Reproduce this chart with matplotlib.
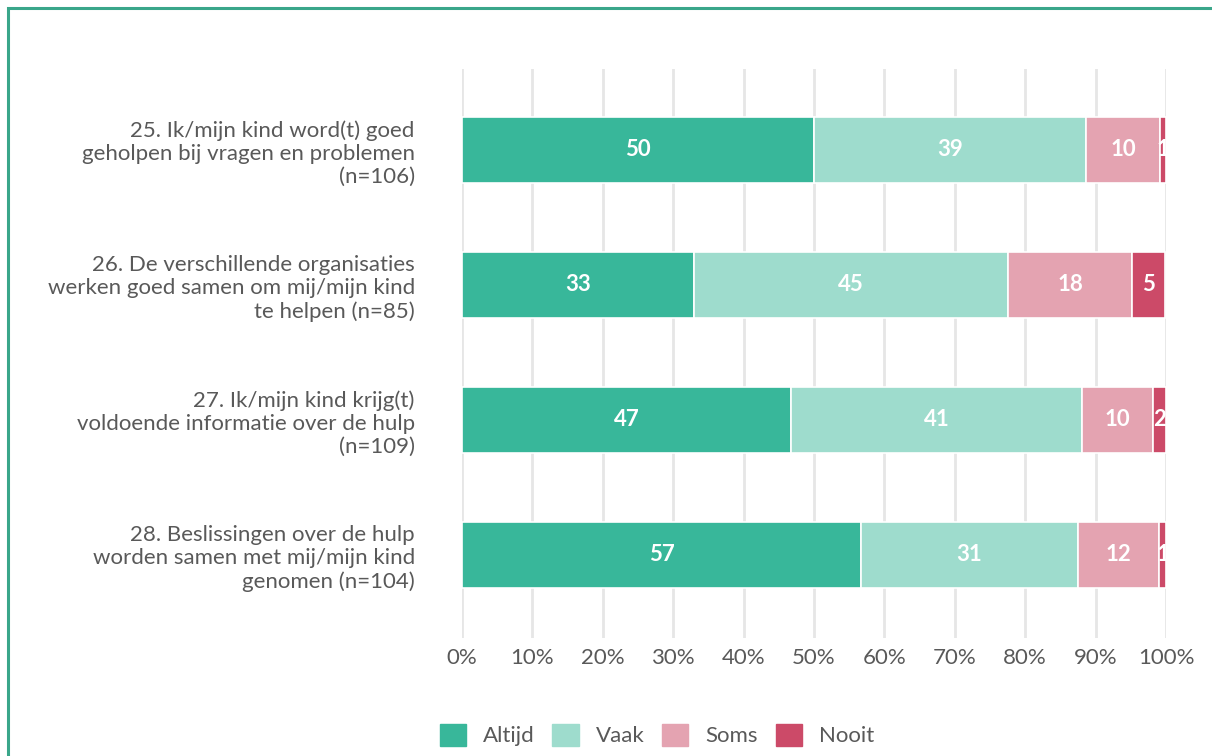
import matplotlib.pyplot as plt
import matplotlib.patches as mpatches
import numpy as np

plt.rcParams['font.family'] = ['Lato', 'DejaVu Sans']

questions = [
    "25. Ik/mijn kind word(t) goed\ngeholpen bij vragen en problemen\n(n=106)",
    "26. De verschillende organisaties\nwerken goed samen om mij/mijn kind\nte helpen (n=85)",
    "27. Ik/mijn kind krijg(t)\nvoldoende informatie over de hulp\n(n=109)",
    "28. Beslissingen over de hulp\nworden samen met mij/mijn kind\ngenomen (n=104)",
]
answers = ['Altijd', 'Vaak', 'Soms', 'Nooit']
altijd = [50.0, 32.9, 46.8, 56.7]
vaak = [38.7, 44.7, 41.3, 30.8]
soms = [10.4, 17.6, 10.1, 11.5]
nooit = [0.9, 4.7, 1.8, 1.0]
colors = ['#38b79a', '#9edccd', '#e4a3b1', '#cc4a68']

text_grey = '#595959'

fig = plt.figure(figsize=(12.12, 7.56), dpi=100)
ax = fig.add_axes([462 / 1212, 1 - 638 / 756, 704 / 1212, 569 / 756])

y = np.arange(len(questions))
left = np.zeros(len(questions))
for name, vals, col in zip(answers, [altijd, vaak, soms, nooit], colors):
    vals = np.array(vals)
    bars = ax.barh(y, vals, left=left, height=0.49, color=col,
                   edgecolor='white', linewidth=1.2, label=name, zorder=2)
    for b, v in zip(bars, vals):
        ax.text(b.get_x() + b.get_width() / 2, b.get_y() + b.get_height() / 2,
                '{:.0f}'.format(v), ha='center', va='center',
                color='white', fontsize=16, fontweight='bold', zorder=3)
    left += vals

ax.set_xlim(0, 100)
ax.set_ylim(3.615, -0.6)
ax.set_xticks(np.arange(0, 101, 10))
ax.set_xticklabels(['{}%'.format(t) for t in range(0, 101, 10)])
ax.set_yticks(y)
ax.set_yticklabels(questions, fontsize=16, color=text_grey, linespacing=1.2)
ax.tick_params(axis='x', length=0, pad=7, labelsize=16, labelcolor=text_grey)
ax.tick_params(axis='y', length=0, pad=34)
ax.grid(axis='x', color='#e6e6e6', linewidth=2, zorder=0)
for s in ax.spines.values():
    s.set_visible(False)

handles = [mpatches.Patch(color=c, label=a) for a, c in zip(answers, colors)]
fig.legend(handles=handles, loc='center', bbox_to_anchor=(657 / 1212, 1 - 735 / 756),
           ncol=4, frameon=False, fontsize=16, labelcolor=text_grey,
           handlelength=1.18, handleheight=1.18, handletextpad=0.77, columnspacing=0.8)

# green frame around the panel
frame = mpatches.Rectangle((8 / 1212, -0.1), 1.2, 1 - 8 / 756 + 0.1,
                           transform=fig.transFigure, fill=False,
                           edgecolor='#3aa68a', linewidth=2.2)
fig.patches.append(frame)

fig.savefig('out.png', dpi=100)
